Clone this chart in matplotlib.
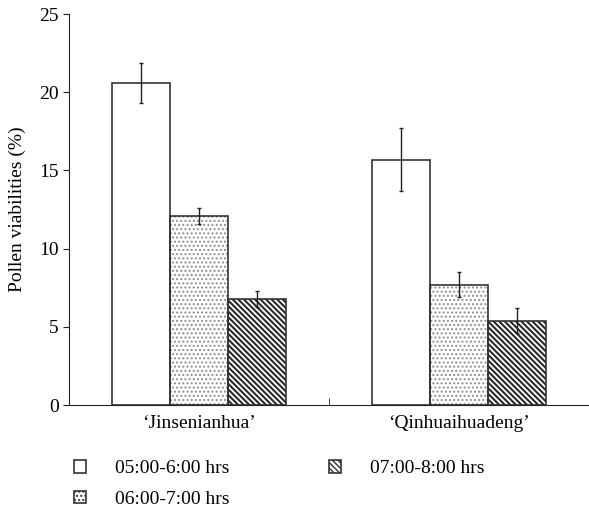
import matplotlib
matplotlib.use('Agg')
import matplotlib.pyplot as plt
import numpy as np

plt.rcParams['font.family'] = ['Liberation Serif', 'DejaVu Serif']
plt.rcParams['hatch.linewidth'] = 1.0

cultivars = ["\u2018Jinsenianhua\u2019", "\u2018Qinhuaihuadeng\u2019"]
periods = ['05:00-6:00 hrs', '06:00-7:00 hrs', '07:00-8:00 hrs']
viab = [[20.6, 15.7],
        [12.1, 7.7],
        [6.8, 5.4]]
err = [[1.3, 2.0],
       [0.5, 0.8],
       [0.5, 0.8]]
hatches = ['', '....', '\\\\\\\\\\\\']
hatch_cols = ['#333333', '#8a8a8a', '#2a2a2a']
hatch_lw = [1.0, 0.9, 1.5]

fig = plt.figure(figsize=(5.89, 5.11), dpi=100)
ax = fig.add_axes([0.1171, 0.2074, 0.883, 0.765])

x = np.arange(len(cultivars))
w = 0.223
handles = []
for i in range(3):
    # hatch layer first, then a dark outline on top
    b = ax.bar(x + (i - 1) * w, viab[i], w, color='white', edgecolor=hatch_cols[i],
               linewidth=0, hatch=hatches[i], label=periods[i], zorder=2)
    for p in b:
        if hasattr(p, 'set_hatch_linewidth'):
            p.set_hatch_linewidth(hatch_lw[i])
    ax.bar(x + (i - 1) * w, viab[i], w, fill=False, edgecolor='#333333',
           linewidth=1.2, zorder=2.5)
    ax.errorbar(x + (i - 1) * w, viab[i], yerr=err[i], fmt='none', ecolor='#222222',
                elinewidth=1, capsize=1.6, capthick=1, zorder=3)
    handles.append(b)

ax.set_xlim(-0.5, 1.5)
ax.set_ylim(0, 25)
ax.set_yticks([0, 5, 10, 15, 20, 25])
ax.set_xticks(x)
ax.set_xticklabels(cultivars)
ax.tick_params(axis='x', length=0, labelsize=14, pad=7)
ax.tick_params(axis='y', direction='out', length=4, labelsize=14, color='#222222')
ax.set_xticks([0.5], minor=True)
ax.tick_params(axis='x', which='minor', direction='in', length=5, color='#222222')
ax.spines['top'].set_visible(False)
ax.spines['right'].set_visible(False)
for s in ['left', 'bottom']:
    ax.spines[s].set_color('#222222')
ax.set_ylabel('Pollen viabilities (%)', fontsize=14, labelpad=9)

leg = fig.legend(handles=handles, labels=periods, ncol=2, loc='upper left',
                 bbox_to_anchor=(74 / 589, 1 - 460 / 511), frameon=False, fontsize=14,
                 handlelength=0.62, handleheight=0.62, handletextpad=1.5,
                 columnspacing=5.1, labelspacing=0.7, borderpad=0, borderaxespad=0)
for h in leg.legend_handles:
    h.set_edgecolor('#333333')
    h.set_linewidth(1.2)

fig.savefig('out.png', dpi=100)
